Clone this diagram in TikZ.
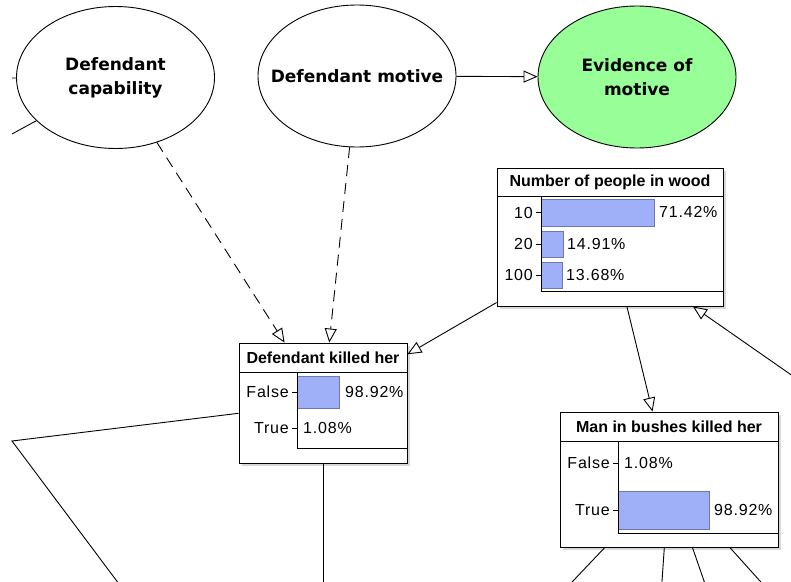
\documentclass[tikz,border=0pt]{standalone}
\usepackage{fontspec}
\setmainfont{Liberation Sans}
\newfontfamily\ellfont{DejaVu Sans}
\newfontfamily\labfont[LetterSpace=5]{Liberation Sans}
\usetikzlibrary{shapes.geometric,arrows.meta,shadows}
\definecolor{evigreen}{RGB}{152,255,152}
\definecolor{barfill}{RGB}{160,176,248}
\definecolor{barline}{RGB}{110,120,170}
\tikzset{
  ell/.style={ellipse,draw,line width=0.9pt,fill=white,minimum width=198pt,minimum height=142pt,inner sep=0pt},
  elltext/.style={inner sep=0pt,align=center,font=\ellfont\bfseries\fontsize{17}{24}\selectfont},
  netbox/.style={rectangle,draw,line width=0.9pt,fill=white,inner sep=0pt,drop shadow={shadow xshift=3pt,shadow yshift=-3pt,fill=black!30}},
  boxtitle/.style={inner sep=0pt,font=\bfseries\fontsize{16}{18}\selectfont},
  rowlab/.style={inner sep=0pt,anchor=east,font=\labfont\fontsize{16}{18}\selectfont},
  pct/.style={inner sep=0pt,anchor=west,font=\labfont\fontsize{16}{18}\selectfont},
  bar/.style={fill=barfill,draw=barline,line width=0.9pt},
  axisline/.style={line width=0.9pt},
  link/.style={line width=0.9pt},
  arr/.style={line width=0.9pt,-{Triangle[open,length=14pt,width=12pt]}},
  dashlink/.style={dash pattern=on 11pt off 7pt}
}
\begin{document}
\begin{tikzpicture}[x=1pt,y=-1pt]
\useasboundingbox (0,0) rectangle (791,581);
\clip (0,0) rectangle (791,581);
% ellipses
\node[ell] (cap) at (115.5,77.5) {};
\node[elltext] (capt) at (cap.center) {Defendant\\capability};
\node[ell] (mot) at (357,76) {};
\node[elltext] (mott) at (mot.center) {Defendant motive};
\node[ell,fill=evigreen] (evi) at (637,77) {};
\node[elltext] (evit) at (evi.center) {Evidence of\\motive};
% boxes
\node[netbox,minimum width=226pt,minimum height=138pt] (num) at (610,237) {};
\node[netbox,minimum width=168pt,minimum height=120pt] (kil) at (323,403) {};
\node[netbox,minimum width=218pt,minimum height=135pt] (man) at (669,479.5) {};
% Number of people in wood
\node[boxtitle] (numt) at (610,182.5) {Number of people in wood};
\draw[axisline] (497,196) -- (723,196);
\draw[bar] (541,199) rectangle (654,226);
\draw[bar] (541,231) rectangle (563.5,257);
\draw[bar] (541,262) rectangle (562.5,288);
\draw[axisline] (541,196) -- (541,291) -- (723,291);
\node[rowlab] (n10) at (533,212.5) {10};
\node[rowlab] (n20) at (533,244) {20};
\node[rowlab] (n100) at (533,275) {100};
\draw[axisline] (536,212.5) -- (541,212.5) (536,244) -- (541,244) (536,275) -- (541,275);
\node[pct] (p10) at (659,212) {71.42\%};
\node[pct] (p20) at (567,244) {14.91\%};
\node[pct] (p100) at (566,275) {13.68\%};
% Defendant killed her
\node[boxtitle] (kilt) at (323,357.5) {Defendant killed her};
\draw[axisline] (239,372) -- (407,372);
\draw[bar] (297,376) rectangle (339,408);
\draw[axisline] (297,372) -- (297,448) -- (407,448);
\node[rowlab] (kf) at (289,392) {False};
\node[rowlab] (kt) at (289,428) {True};
\draw[axisline] (292,392) -- (297,392) (292,428) -- (297,428);
\node[pct] (kpf) at (345,392) {98.92\%};
\node[pct] (kpt) at (303,428) {1.08\%};
% Man in bushes killed her
\node[boxtitle] (mant) at (669,426.5) {Man in bushes killed her};
\draw[axisline] (560,441) -- (778,441);
\draw[bar] (618,491) rectangle (709,529);
\draw[line width=1.6pt,barline] (618.6,446) -- (618.6,481);
\draw[axisline] (618,441) -- (618,533) -- (778,533);
\node[rowlab] (mf) at (610,463) {False};
\node[rowlab] (mt) at (610,510) {True};
\draw[axisline] (613,463) -- (618,463) (613,510) -- (618,510);
\node[pct] (mpf) at (624,463) {1.08\%};
\node[pct] (mpt) at (714,510) {98.92\%};
% free ends
\coordinate (l1) at (12,78);
\coordinate (l2) at (12,134);
\coordinate (k1) at (12,441);
\coordinate (k2) at (131,600);
\coordinate (k3) at (323,600);
\coordinate (m1) at (555,600);
\coordinate (m2) at (660.7,600);
\coordinate (m3) at (710.6,600);
\coordinate (m4) at (777,600);
\coordinate (e1) at (810,388);
% connectors
\draw[arr] (mot) -- (evi);
\draw[arr,dashlink] (cap) -- (kil);
\draw[arr,dashlink] (mot) -- (kil);
\draw[arr] (num) -- (kil);
\draw[arr] (num) -- (man);
\draw[arr] (e1) -- ([xshift=83pt]num.south);
\draw[link] (cap) -- (l1);
\draw[link] (cap) -- (l2);
\draw[link] (kil) -- (k1) -- (k2);
\draw[link] (kil) -- (k3);
\draw[link] (man) -- (m1);
\draw[link] (man) -- (m2);
\draw[link] (man) -- (m3);
\draw[link] (man) -- (m4);
\end{tikzpicture}
\end{document}
